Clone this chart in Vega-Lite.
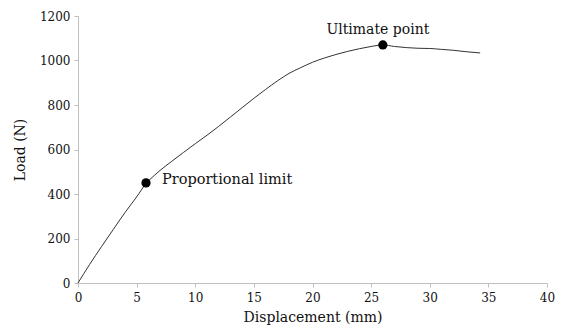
{
  "$schema": "https://vega.github.io/schema/vega-lite/v6.json",
  "width": 469,
  "height": 267,
  "autosize": {"type": "none"},
  "padding": {"left": 78, "top": 16, "right": 18, "bottom": 49},
  "background": "white",
  "config": {
    "view": {"stroke": null},
    "axis": {
      "grid": false,
      "domainColor": "#bfbfbf",
      "tickColor": "#bfbfbf",
      "tickSize": 4,
      "labelFlush": false,
      "labelFont": "DejaVu Serif",
      "labelFontSize": 12,
      "labelColor": "#111",
      "titleFont": "DejaVu Serif",
      "titleFontSize": 14,
      "titleFontWeight": "normal",
      "titleColor": "#111"
    }
  },
  "datasets": {
    "curve": [
      {"x": 0, "y": 0}, {"x": 1, "y": 84}, {"x": 2, "y": 163}, {"x": 3, "y": 240},
      {"x": 4, "y": 316}, {"x": 5, "y": 387}, {"x": 5.8, "y": 447}, {"x": 6.5, "y": 483},
      {"x": 7, "y": 506}, {"x": 8, "y": 547}, {"x": 9, "y": 587}, {"x": 10, "y": 626},
      {"x": 11, "y": 664}, {"x": 12, "y": 704}, {"x": 13, "y": 746}, {"x": 14, "y": 788},
      {"x": 15, "y": 830}, {"x": 16, "y": 870}, {"x": 17, "y": 908}, {"x": 18, "y": 942},
      {"x": 19, "y": 968}, {"x": 20, "y": 992}, {"x": 21, "y": 1011}, {"x": 22, "y": 1027},
      {"x": 23, "y": 1041}, {"x": 24, "y": 1053}, {"x": 25, "y": 1063}, {"x": 26, "y": 1070},
      {"x": 27, "y": 1063}, {"x": 28, "y": 1058}, {"x": 29, "y": 1055}, {"x": 30, "y": 1054},
      {"x": 31, "y": 1050}, {"x": 32, "y": 1046}, {"x": 33, "y": 1040}, {"x": 34.3, "y": 1034}
    ],
    "points": [
      {"x": 5.8, "y": 450, "label": "Proportional limit", "pos": "right"},
      {"x": 26, "y": 1070, "label": "Ultimate point", "pos": "top"}
    ]
  },
  "layer": [
    {
      "data": {"name": "curve"},
      "mark": {"type": "line", "color": "#333", "strokeWidth": 1, "interpolate": "monotone"},
      "encoding": {
        "x": {"field": "x", "type": "quantitative", "title": "Displacement (mm)",
              "scale": {"domain": [0, 40], "nice": false},
              "axis": {"values": [0, 5, 10, 15, 20, 25, 30, 35, 40], "format": "d", "labelPadding": 5, "titlePadding": 7}},
        "y": {"field": "y", "type": "quantitative", "title": "Load (N)",
              "scale": {"domain": [0, 1200], "nice": false},
              "axis": {"values": [0, 200, 400, 600, 800, 1000, 1200], "format": "d", "labelPadding": 4, "titlePadding": 12}}
      }
    },
    {
      "data": {"name": "points"},
      "mark": {"type": "point", "filled": true, "color": "black", "size": 85, "opacity": 1},
      "encoding": {
        "x": {"field": "x", "type": "quantitative"},
        "y": {"field": "y", "type": "quantitative"}
      }
    },
    {
      "data": {"name": "points"},
      "transform": [{"filter": "datum.pos === 'right'"}],
      "mark": {"type": "text", "align": "left", "baseline": "middle", "dx": 16, "dy": -3, "fontSize": 14.5, "color": "#111", "font": "DejaVu Serif"},
      "encoding": {
        "x": {"field": "x", "type": "quantitative"},
        "y": {"field": "y", "type": "quantitative"},
        "text": {"field": "label"}
      }
    },
    {
      "data": {"name": "points"},
      "transform": [{"filter": "datum.pos === 'top'"}],
      "mark": {"type": "text", "align": "center", "baseline": "middle", "dx": -5, "dy": -15, "fontSize": 14, "color": "#111", "font": "DejaVu Serif"},
      "encoding": {
        "x": {"field": "x", "type": "quantitative"},
        "y": {"field": "y", "type": "quantitative"},
        "text": {"field": "label"}
      }
    }
  ]
}
